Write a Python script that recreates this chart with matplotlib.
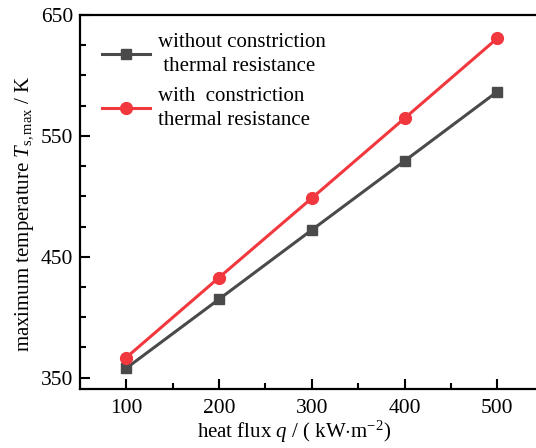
import matplotlib
matplotlib.use('Agg')
from matplotlib import pyplot as plt
from matplotlib.ticker import MultipleLocator

# data
heat_flux = [100, 200, 300, 400, 500]
t_without = [357.7, 414.8, 472.1, 529.2, 586.6]
t_with = [366.5, 432.7, 498.4, 564.5, 630.7]

plt.rcParams['font.family'] = ['Liberation Serif', 'DejaVu Serif']
plt.rcParams['mathtext.fontset'] = 'custom'
plt.rcParams['mathtext.rm'] = 'Liberation Serif'
plt.rcParams['mathtext.it'] = 'Liberation Serif:italic'

fig = plt.figure(figsize=(5.36, 4.48), dpi=100)
ax = fig.add_axes([0.149, 0.1317, 0.851, 0.835])

ax.plot(heat_flux, t_without, color='#4a4a4a', lw=2.2, marker='s', ms=7.5,
        label='without constriction\n thermal resistance')
ax.plot(heat_flux, t_with, color='#f0383e', lw=2.2, marker='o', ms=8.5,
        label='with  constriction\nthermal resistance')

ax.set_xlim(50.2, 541.6)
ax.set_ylim(340.6, 650)
ax.set_xticks(heat_flux)
ax.set_yticks([350, 450, 550, 650])
ax.xaxis.set_minor_locator(MultipleLocator(50))
ax.yaxis.set_minor_locator(MultipleLocator(25))
ax.tick_params(which='both', direction='in', labelsize=15.5, width=1.5)
ax.tick_params(which='major', length=7)
ax.tick_params(which='minor', length=4)
ax.tick_params(axis='x', pad=7)
ax.tick_params(axis='y', pad=5)
ax.spines['right'].set_visible(False)
for s in ['left', 'bottom', 'top']:
    ax.spines[s].set_linewidth(1.6)

ax.set_xlabel(r'heat flux $q$ / ( kW$\cdot$m$^{-2}$)', fontsize=15)
ax.xaxis.set_label_coords(0.4686, -0.08)
ax.set_ylabel(r'maximum temperature $T_{\mathrm{s,max}}$ / K', fontsize=15)
ax.yaxis.set_label_coords(-0.097, 0.468)

leg = ax.legend(loc='upper left', frameon=False, fontsize=15, handlelength=2.3,
                labelspacing=0.55, handletextpad=0.4, borderaxespad=0.0,
                bbox_to_anchor=(0.03, 0.975))
for t in leg.get_texts():
    t.set_linespacing(1.35)

fig.savefig('out.png', dpi=100)
